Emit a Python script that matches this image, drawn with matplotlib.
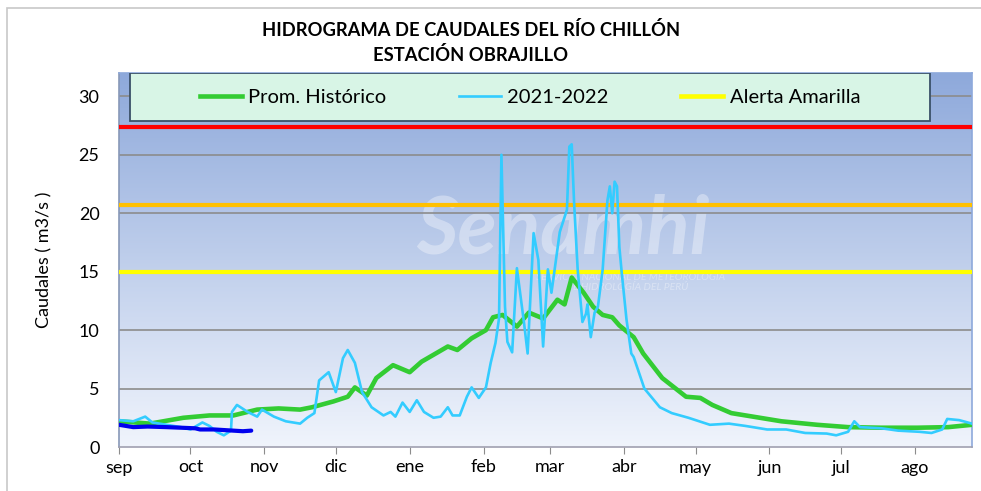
import numpy as np
import matplotlib
matplotlib.use("Agg")
import matplotlib.pyplot as plt
from matplotlib.patches import Rectangle
from matplotlib.lines import Line2D

plt.rcParams['font.family'] = ['Lato', 'DejaVu Sans']

# ---- data (day index counted from 1 Sep) ----
month_labels = ["sep", "oct", "nov", "dic", "ene", "feb", "mar", "abr", "may", "jun", "jul", "ago"]
month_days = [0, 30, 61, 91, 122, 153, 181, 212, 242, 273, 303, 334]

hist_day = [0, 13, 27, 38, 48, 58, 67, 76, 81, 90, 96, 99, 104, 108, 115, 122, 127, 138, 142, 148,
            154, 157, 161, 167, 172, 178, 184, 187, 190, 195, 199, 203, 207, 210, 216, 220, 228,
            238, 244, 249, 257, 269, 278, 293, 306, 320, 335, 348, 358]
hist_q = [2.2, 2.0, 2.5, 2.7, 2.7, 3.2, 3.3, 3.2, 3.4, 3.9, 4.3, 5.1, 4.4, 5.9, 7.0, 6.4, 7.3, 8.6, 8.3, 9.3,
          10.0, 11.1, 11.3, 10.3, 11.5, 11.0, 12.6, 12.2, 14.5, 13.2, 12.0, 11.3, 11.1, 10.4, 9.4, 8.0, 5.9,
          4.3, 4.2, 3.6, 2.9, 2.5, 2.2, 1.9, 1.7, 1.65, 1.65, 1.7, 1.9]

cur_day = [0, 6, 11, 14, 20, 26, 30, 35, 38, 41, 44, 47, 47.4, 49.5, 54, 58, 60, 65, 70, 76, 79, 82, 84,
           88, 91, 94, 96, 99, 102, 106, 111, 114, 116, 119, 122, 125, 128, 132, 135, 138, 140, 143,
           146, 148, 151, 154, 156, 158, 159.5, 160.5, 162, 163, 165, 167, 170, 171.5, 174, 176, 178,
           180, 181.5, 185, 188, 189, 190, 191, 192.5, 194.5, 196, 196.6, 198, 199.6, 201, 203, 205,
           206, 207, 208, 209, 210, 211, 213, 215, 216, 220.5, 227, 232, 239, 248, 256, 263, 272,
           280, 288, 297, 301, 306, 308, 308.6, 311, 320, 327, 336, 341, 345.5, 347.6, 352.6, 358]
cur_q = [2.3, 2.2, 2.6, 2.1, 1.9, 1.7, 1.5, 2.1, 1.8, 1.3, 1.0, 1.4, 3.0, 3.6, 3.0, 2.6, 3.2, 2.6, 2.2,
         2.0, 2.5, 2.9, 5.7, 6.4, 4.7, 7.6, 8.3, 7.2, 4.7, 3.4, 2.7, 3.0, 2.6, 3.8, 3.0, 4.0, 3.0, 2.5,
         2.6, 3.4, 2.7, 2.7, 4.3, 5.1, 4.2, 5.1, 7.2, 8.9, 11.0, 25.0, 12.0, 9.0, 8.1, 15.3, 10.6, 8.0,
         18.3, 16.0, 8.6, 15.2, 13.2, 18.4, 20.3, 25.7, 25.9, 20.9, 15.2, 10.7, 11.4, 12.2, 9.4, 11.5,
         12.0, 15.2, 21.1, 22.3, 20.0, 22.7, 22.3, 17.1, 14.9, 10.9, 8.0, 7.7, 5.0, 3.4, 2.9, 2.5, 1.9,
         2.0, 1.8, 1.5, 1.5, 1.2, 1.15, 1.0, 1.3, 2.0, 2.2, 1.7, 1.6, 1.4, 1.3, 1.2, 1.5, 2.4, 2.3, 2.0]

new_day = [0, 6, 12, 20, 26, 32, 34, 40, 48, 52, 55.5]
new_q = [1.9, 1.7, 1.75, 1.7, 1.65, 1.6, 1.5, 1.5, 1.4, 1.35, 1.4]

alerta_roja = 27.4
alerta_naranja = 20.7
alerta_amarilla = 15.0

# ---- figure ----
W, H = 981, 491
fig = plt.figure(figsize=(W / 100, H / 100), dpi=100)
fig.patch.set_facecolor("white")
fig.patches.append(Rectangle((7 / W, -0.1), 1.2, 1 - 8 / H + 0.1, transform=fig.transFigure,
                             facecolor="none", edgecolor="#c8c8c8", lw=1.2))

ax = fig.add_axes([119 / W, 1 - 447 / H, (972 - 119) / W, (447 - 73) / H])
ax.set_xlim(0, 358)
ax.set_ylim(0, 32)

# gradient background
grad = np.linspace(0, 1, 256).reshape(-1, 1)
top = np.array([142, 169, 219]) / 255
bot = np.array([240, 244, 252]) / 255
img = bot[None, None, :] * (1 - grad[:, :, None]) + top[None, None, :] * grad[:, :, None]
ax.imshow(img, extent=[0, 1, 0, 1], transform=ax.transAxes, origin="lower", aspect="auto", zorder=0)

# watermark
ax.text(0.52, 0.58, "Senamhi", transform=ax.transAxes, fontsize=58, fontweight="bold",
        fontstyle="italic", color="white", alpha=0.35, ha="center", va="center", zorder=1)
ax.text(0.60, 0.44, "SERVICIO NACIONAL DE METEOROLOGÍA\nE HIDROLOGÍA DEL PERÚ", transform=ax.transAxes,
        fontsize=7.5, fontstyle="italic", color="white", alpha=0.35, ha="center", va="center", zorder=1)

for v in range(5, 35, 5):
    ax.axhline(v, color="#8c8c8c", lw=1.2, zorder=2)

ax.axhline(alerta_roja, color="#ff0000", lw=3, zorder=3)
ax.axhline(alerta_naranja, color="#ffc000", lw=3, zorder=3)
ax.axhline(alerta_amarilla, color="#ffff00", lw=3, zorder=3)

ax.plot(hist_day, hist_q, color="#33cc33", lw=3.3, zorder=4, solid_capstyle="round")
ax.plot(cur_day, cur_q, color="#33ccff", lw=1.9, zorder=5)
ax.plot(new_day, new_q, color="#0000ee", lw=3.0, zorder=6, solid_capstyle="round")

ax.set_xticks(month_days)
ax.set_xticklabels(month_labels)
ax.set_yticks(range(0, 35, 5))
ax.tick_params(axis="x", length=5, color="#8c8c8c", labelsize=13, pad=4)
ax.tick_params(axis="y", length=0, labelsize=13, pad=14)
for s in ax.spines.values():
    s.set_color("#8ea9db")
    s.set_linewidth(1.2)
ax.spines["bottom"].set_color("#a0a0b0")
ax.spines["left"].set_color("#8898b8")

ax.set_ylabel("Caudales ( m3/s )", fontsize=13, labelpad=19)

# legend box
ax.add_patch(Rectangle(((130 - 119) / 853, (447 - 121) / 374), 800 / 853, 48 / 374,
                       transform=ax.transAxes, facecolor="#d8f5e6", edgecolor="#3a5068",
                       lw=1.3, zorder=7))
handles = [Line2D([], [], color="#33cc33", lw=3.3),
           Line2D([], [], color="#33ccff", lw=1.9),
           Line2D([], [], color="#ffff00", lw=3.3)]
leg = ax.legend(handles, ["Prom. Histórico", "2021-2022", "Alerta Amarilla"], ncol=3,
                loc="center", bbox_to_anchor=((530 - 119) / 853, (447 - 97) / 374),
                frameon=False, fontsize=14.5, handlelength=2.1, handletextpad=0.3,
                columnspacing=3.6)
leg.set_zorder(8)

fig.text(471 / W, 1 - 30 / H, "HIDROGRAMA DE CAUDALES DEL RÍO CHILLÓN", ha="center", va="center",
         fontsize=13.2, fontweight="bold")
fig.text(471 / W, 1 - 55 / H, "ESTACIÓN OBRAJILLO", ha="center", va="center",
         fontsize=13.2, fontweight="bold")

fig.savefig("out.png", dpi=100)
